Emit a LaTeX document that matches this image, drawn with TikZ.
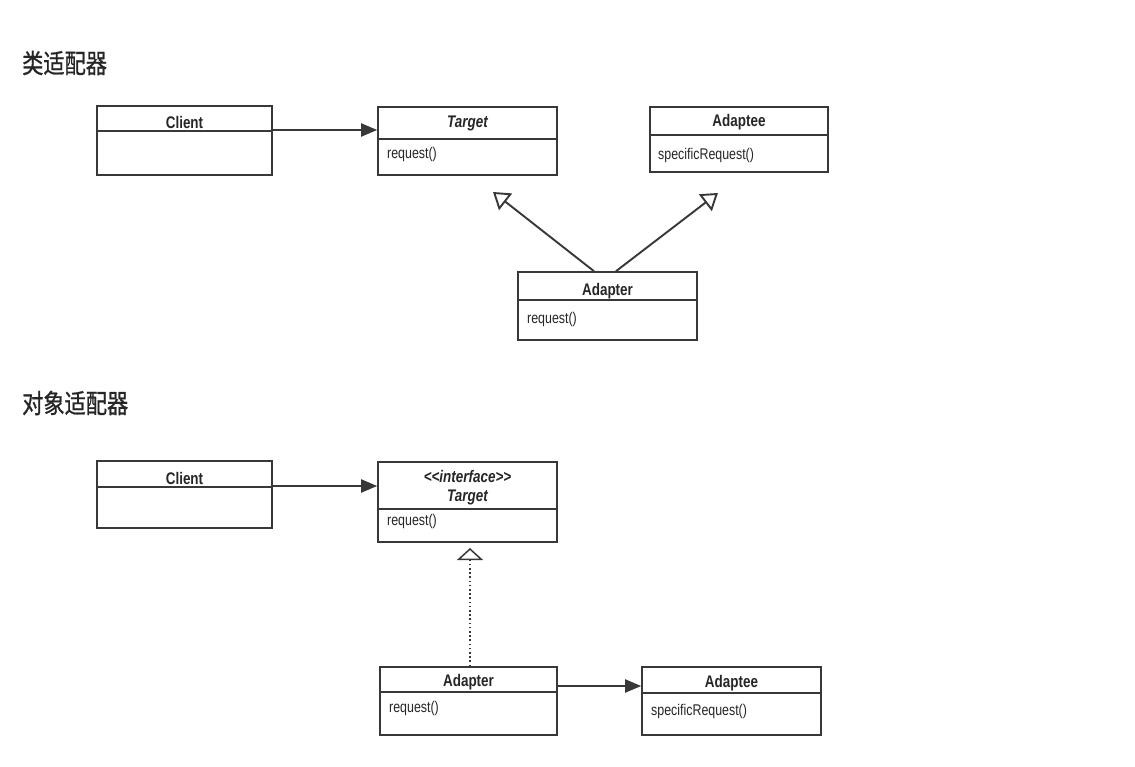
\documentclass[tikz,border=0pt]{standalone}
\usepackage{fontspec}
\setmainfont{Liberation Sans}
\newfontfamily\umlfont[FakeStretch=0.8]{Liberation Sans}
\newfontfamily\cjkfont[FakeStretch=0.8,FakeBold=0.8]{Noto Sans CJK SC}
\usetikzlibrary{arrows.meta,fit}
\definecolor{linec}{HTML}{383838}
\definecolor{textc}{HTML}{262626}
\tikzset{
  ln/.style={draw=linec, line width=1.6pt},
  umlrect/.style={ln, inner sep=0pt, fill=white},
  hdr/.style={font=\umlfont\fontsize{16.8}{18}\selectfont\bfseries, text=textc, inner sep=0pt},
  ops/.style={font=\umlfont\fontsize{15.5}{17}\selectfont, text=textc, inner sep=0pt, anchor=west},
  ttl/.style={font=\cjkfont\fontsize{26.5}{28}\selectfont, text=textc, inner sep=0pt, anchor=west},
  assoc/.style={ln, line width=2pt, -{Triangle[length=16pt,width=13pt]}},
  gen/.style={ln, line width=1.9pt, -{Triangle[open,length=16pt,width=21pt,fill=white]}},
  real/.style={ln, line width=1.5pt, dash pattern=on 1.6pt off 2.6pt, -{Triangle[open,length=12pt,width=26pt,fill=white]}},
}
% name, x1, y1, x2, y2, divider y
\newcommand\umlbox[6]{%
  \node[umlrect, fit={(#2,#3) (#4,#5)}] (#1) {};
  \draw[ln] (#1.west |- 0,#6) -- (#1.east |- 0,#6);
}
\begin{document}
\begin{tikzpicture}[x=1pt,y=-1pt]
\fill[white] (0,0) rectangle (1135,767);
\useasboundingbox (0,0) rectangle (1135,767);

% ---------- class adapter ----------
\node[ttl] (t1) at (22,63) {类适配器};

\umlbox{c1}{97}{106}{272}{175}{131}
\node[hdr] (c1h) at (184.5,122) {Client};

\umlbox{tg1}{378}{107}{557}{175}{139}
\node[hdr] (tg1h) at (467.5,123) {\itshape Target};
\node[ops] (tg1o) at (387,154) {request()};

\umlbox{ae1}{650}{107}{828}{172}{135}
\node[hdr] (ae1h) at (739,122) {Adaptee};
\node[ops] (ae1o) at (658,155) {specificRequest()};

\umlbox{ad1}{518}{272}{697}{340}{300}
\node[hdr] (ad1h) at (607.5,291) {Adapter};
\node[ops] (ad1o) at (527,319) {request()};

\draw[assoc] (c1.east |- 0,130) -- (tg1.west |- 0,130);
\coordinate (g1) at (493,192);
\coordinate (g2) at (718,193);
\draw[gen] (ad1.north -| 594,0) -- (g1);
\draw[gen] (ad1.north -| 616,0) -- (g2);

% ---------- object adapter ----------
\node[ttl] (t2) at (22,403) {对象适配器};

\umlbox{c2}{97}{461}{272}{528}{487}
\node[hdr] (c2h) at (184.5,478) {Client};

\umlbox{tg2}{378}{462}{557}{542}{509}
\node[hdr] (tg2s) at (467.5,476) {\itshape <<interface>{}>};
\node[hdr] (tg2h) at (467.5,497) {\itshape Target};
\node[ops] (tg2o) at (387,521) {request()};

\umlbox{ad2}{380}{667}{557}{735}{692}
\node[hdr] (ad2h) at (468.5,682) {Adapter};
\node[ops] (ad2o) at (389,708) {request()};

\umlbox{ae2}{642}{667}{821}{735}{693}
\node[hdr] (ae2h) at (731.5,683) {Adaptee};
\node[ops] (ae2o) at (651,711) {specificRequest()};

\draw[assoc] (c2.east |- 0,486) -- (tg2.west |- 0,486);
\coordinate (r1) at (470,548);
\draw[real] (ad2.north -| 470,0) -- (r1);
\draw[assoc] (ad2.east |- 0,686) -- (ae2.west |- 0,686);
\end{tikzpicture}
\end{document}
